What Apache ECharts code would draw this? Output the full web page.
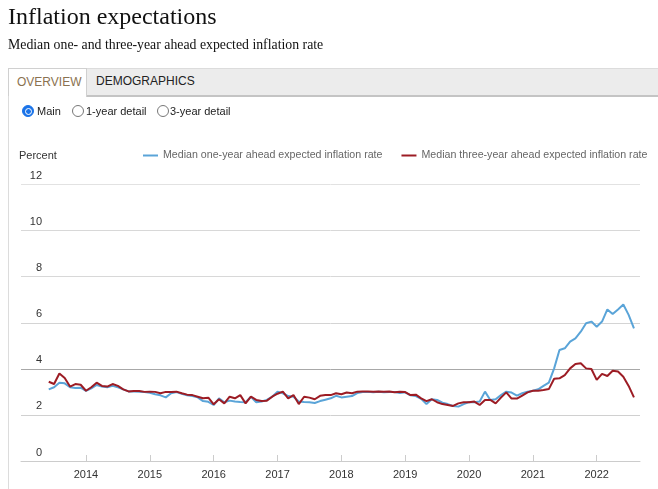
<!DOCTYPE html>
<html>
<head>
<meta charset="utf-8">
<script src="https://cdn.jsdelivr.net/npm/echarts@6/dist/echarts.min.js"></script>
<style>
  html, body { margin: 0; padding: 0; background: #fff; width: 658px; height: 489px; overflow: hidden; }
  #chart { position: absolute; left: 0; top: 0; width: 658px; height: 489px; }
  .abs { position: absolute; white-space: nowrap; }
  #title { left: 8px; top: 3px; font: 24px "Liberation Serif", serif; color: #111; }
  #subtitle { left: 8px; top: 37px; font: 13.8px "Liberation Serif", serif; color: #111; }
  #tabbar { left: 8px; top: 68px; width: 650px; height: 26px; background: #ececec; border-top: 1px solid #dcdcdc; border-bottom: 2px solid #c4c4c4; }
  #tab1 { left: 8px; top: 68px; width: 77px; height: 28px; background: #fff; border-left: 1px solid #d0d0d0; border-right: 1px solid #d0d0d0; border-top: 1px solid #d0d0d0; font: 12px "Liberation Sans", Arial, sans-serif; color: #8a7250; line-height: 27px; text-indent: 8px; }
  #tab2 { left: 96px; top: 68px; height: 27px; font: 12px "Liberation Sans", Arial, sans-serif; color: #222; line-height: 27px; }
  #leftborder { left: 8px; top: 96px; width: 1px; height: 393px; background: #dcdcdc; }
  .radio { width: 10px; height: 10px; border-radius: 50%; border: 1px solid #777; background: #fff; top: 105px; }
  .radio.on { border-color: #1a73e8; background: #1a73e8; }
  .radio.on::after { content: ""; position: absolute; left: 1.5px; top: 1.5px; width: 5px; height: 5px; border-radius: 50%; border: 1px solid #fff; background: #1a73e8; }
  .rlabel { top: 104px; font: 11px "Liberation Sans", Arial, sans-serif; color: #222; line-height: 14px; }
</style>
</head>
<body>
<div id="chart"></div>
<div class="abs" id="title">Inflation expectations</div>
<div class="abs" id="subtitle">Median one- and three-year ahead expected inflation rate</div>
<div class="abs" id="tabbar"></div>
<div class="abs" id="tab1">OVERVIEW</div>
<div class="abs" id="tab2">DEMOGRAPHICS</div>
<div class="abs" id="leftborder"></div>
<div class="abs radio on" style="left:22px"></div>
<div class="abs rlabel" style="left:37px">Main</div>
<div class="abs radio" style="left:72px"></div>
<div class="abs rlabel" style="left:86px">1-year detail</div>
<div class="abs radio" style="left:157px"></div>
<div class="abs rlabel" style="left:170px">3-year detail</div>
<script>
// Monthly survey data, June 2013 – August 2022
const startYear = 2013;
const startMonth = 6;
const seriesNames = ['Median one-year ahead expected inflation rate', 'Median three-year ahead expected inflation rate'];
const oneYear = [
  3.11, 3.20, 3.40, 3.37, 3.20, 3.17, 3.18,
  3.04, 3.15, 3.30, 3.23, 3.20, 3.26, 3.20, 3.11, 3.02, 3.02, 3.01, 2.99,
  2.96, 2.90, 2.85, 2.76, 2.94, 2.99, 2.92, 2.85, 2.82, 2.76, 2.60, 2.57,
  2.43, 2.72, 2.55, 2.62, 2.58, 2.56, 2.55, 2.79, 2.55, 2.58, 2.65, 2.79,
  3.01, 2.94, 2.82, 2.79, 2.58, 2.56, 2.55, 2.52, 2.60, 2.66, 2.72, 2.83,
  2.76, 2.79, 2.82, 2.95, 2.99, 3.00, 2.98, 3.01, 2.98, 2.99, 2.99, 2.95,
  2.98, 2.85, 2.82, 2.70, 2.47, 2.68, 2.65, 2.53, 2.47, 2.39, 2.36, 2.47,
  2.56, 2.55, 2.58, 3.01, 2.65, 2.68, 2.86, 3.01, 2.97, 2.84, 2.94, 3.01,
  3.05, 3.11, 3.26, 3.40, 4.02, 4.82, 4.89, 5.18, 5.32, 5.61, 5.98, 6.05,
  5.83, 6.05, 6.58, 6.38, 6.58, 6.79, 6.34, 5.76
];
const threeYear = [
  3.44, 3.34, 3.80, 3.60, 3.23, 3.34, 3.31,
  3.05, 3.20, 3.40, 3.26, 3.23, 3.34, 3.26, 3.11, 3.02, 3.04, 3.04, 3.00,
  3.01, 3.00, 2.94, 3.00, 2.99, 3.01, 2.94, 2.88, 2.86, 2.79, 2.72, 2.75,
  2.46, 2.68, 2.50, 2.79, 2.72, 2.86, 2.50, 2.79, 2.65, 2.60, 2.62, 2.79,
  2.92, 3.01, 2.72, 2.86, 2.47, 2.79, 2.75, 2.68, 2.83, 2.86, 2.86, 2.94,
  2.90, 2.97, 2.94, 3.01, 3.02, 3.02, 3.01, 3.02, 3.01, 3.02, 2.98, 3.01,
  2.99, 2.86, 2.88, 2.72, 2.60, 2.68, 2.55, 2.47, 2.43, 2.39, 2.50, 2.55,
  2.55, 2.58, 2.43, 2.65, 2.65, 2.50, 2.75, 2.98, 2.71, 2.71, 2.84, 2.98,
  3.05, 3.05, 3.08, 3.12, 3.57, 3.59, 3.73, 4.02, 4.21, 4.24, 4.02, 3.99,
  3.52, 3.78, 3.69, 3.92, 3.88, 3.66, 3.26, 2.76
];
const yearTicks = [2014, 2015, 2016, 2017, 2018, 2019, 2020, 2021, 2022];
const colors = ['#5aa4d8', '#9c1c24'];

function toPoints(values) {
  return values.map((v, i) => [startYear + (startMonth - 1 + i) / 12, v]);
}

const chart = echarts.init(document.getElementById('chart'), null, { renderer: 'canvas' });
const FONT = '"Liberation Sans", Arial, sans-serif';
chart.setOption({
  animation: false,
  color: colors,
  textStyle: { fontFamily: FONT },
  grid: { left: 21, right: 18, top: 184.5, bottom: 28, containLabel: false },
  legend: {
    left: 143, top: 150, width: 515, padding: 0, orient: 'horizontal', icon: 'rect', itemWidth: 15, itemHeight: 2, itemGap: 19,
    textStyle: { fontSize: 10.65, color: '#666', fontFamily: FONT },
    data: seriesNames
  },
  graphic: [
    { type: 'text', left: 19, top: 150, style: { text: 'Percent', font: '11px "Liberation Sans", Arial', fill: '#333' } }
  ],
  xAxis: {
    type: 'value', min: 2012.982, max: 2022.678,
    axisLine: { show: true, lineStyle: { color: '#ccc', width: 1 } },
    axisTick: { show: true, inside: true, length: 6, lineStyle: { color: '#ccc' }, customValues: yearTicks },
    axisLabel: { customValues: yearTicks, fontSize: 11, color: '#333', margin: 8, fontFamily: FONT, formatter: v => String(Math.round(v)) },
    splitLine: { show: false }
  },
  yAxis: {
    type: 'value', min: 0, max: 12, interval: 2,
    axisLine: { show: false }, axisTick: { show: false },
    axisLabel: { inside: true, margin: 21, align: 'right', verticalAlign: 'bottom', padding: [0, 0, 3, 0], fontSize: 11, color: '#333', fontFamily: FONT },
    splitLine: { show: true, lineStyle: { color: ['#ccc', '#d0d0d0', '#a8a8a8', '#d4d4d4', '#d8d8d8', '#d8d8d8', '#e2e2e2'], width: 1 } }
  },
  series: [
    { name: seriesNames[0], type: 'line', data: toPoints(oneYear), showSymbol: false, lineStyle: { width: 2, color: colors[0] }, z: 2 },
    { name: seriesNames[1], type: 'line', data: toPoints(threeYear), showSymbol: false, lineStyle: { width: 2, color: colors[1] }, z: 3 }
  ]
});
</script>
</body>
</html>
